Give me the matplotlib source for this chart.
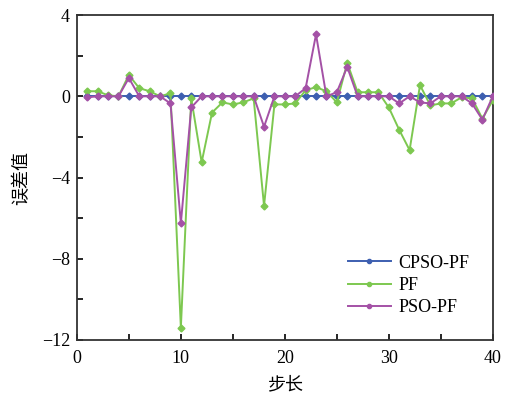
import numpy as np
import matplotlib.pyplot as plt

# 步长 1..40
steps = list(range(1, 41))

cpso_pf = [0.0] * 40

pf = [0.25, 0.25, 0.05, 0.0, 1.05, 0.4, 0.25, 0.0, 0.15, -11.4,
      -0.1, -3.25, -0.8, -0.3, -0.4, -0.3, -0.1, -5.4, -0.4, -0.4,
      -0.35, 0.3, 0.45, 0.25, -0.3, 1.65, 0.2, 0.2, 0.2, -0.55,
      -1.65, -2.65, 0.55, -0.45, -0.35, -0.35, -0.05, -0.1, -1.1, -0.2]

pso_pf = [-0.05, 0.0, 0.0, 0.0, 0.9, 0.0, 0.0, 0.0, -0.35, -6.25,
          -0.55, 0.0, 0.0, 0.0, 0.0, 0.0, 0.0, -1.5, 0.0, 0.0,
          0.0, 0.4, 3.05, 0.0, 0.2, 1.45, 0.0, 0.0, 0.0, 0.0,
          -0.35, 0.0, -0.3, -0.35, 0.0, 0.0, 0.0, -0.35, -1.15, 0.0]

labels = ['CPSO-PF', 'PF', 'PSO-PF']
colors = ['#3d5fb0', '#7dc850', '#a451a6']

plt.rcParams['font.family'] = ['Liberation Serif', 'Noto Sans CJK SC']

fig = plt.figure(figsize=(5.16, 3.98), dpi=100)
ax = fig.add_axes([0.149, 0.146, 0.806, 0.816])

ax.plot(steps, cpso_pf, color=colors[0], marker='D', markersize=3.5, lw=1.4, label=labels[0], zorder=2)
ax.plot(steps, pf, color=colors[1], marker='D', markersize=3.5, lw=1.4, label=labels[1], zorder=3)
ax.plot(steps, pso_pf, color=colors[2], marker='D', markersize=3.5, lw=1.4, label=labels[2], zorder=4)

ax.set_xlim(0, 40)
ax.set_ylim(-12, 4)
ax.set_xticks([0, 10, 20, 30, 40])
ax.set_xticks([5, 15, 25, 35], minor=True)
ax.set_yticks([-12, -8, -4, 0, 4])
ax.set_yticklabels(['\u221212', '\u22128', '\u22124', '0', '4'])
ax.set_yticks([-10, -6, -2, 2], minor=True)
ax.tick_params(direction='in', which='both', labelsize=13, width=1.2, length=4)
ax.tick_params(axis='x', pad=7)
ax.tick_params(axis='y', pad=5)
for s in ax.spines.values():
    s.set_linewidth(1.3)
    s.set_color('#333333')

ax.set_xlabel('步长', fontsize=13, family='Noto Sans CJK SC', labelpad=6)
ax.set_ylabel('误差值', fontsize=13, family='Noto Sans CJK SC', labelpad=8)

leg = ax.legend(loc='lower right', bbox_to_anchor=(1.0, 0.0), frameon=False, fontsize=13,
                handlelength=2.4, handletextpad=0.4, labelspacing=0.3, borderaxespad=0.9)
for h in leg.legend_handles:
    h.set_marker('o')
    h.set_markersize(3)

fig.savefig('out.png', dpi=100)
